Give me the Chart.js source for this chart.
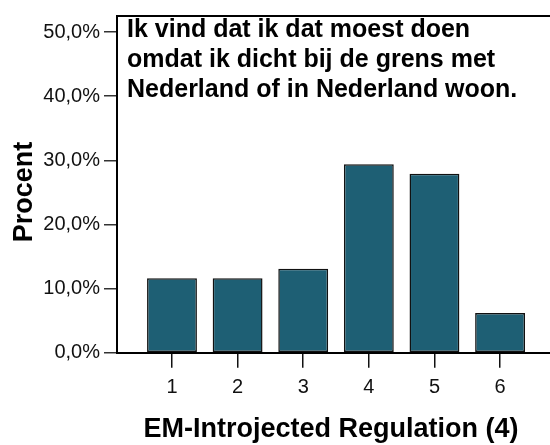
<!DOCTYPE html>
<html>
<head>
<meta charset="utf-8">
<script src="https://cdn.jsdelivr.net/npm/chart.js@4"></script>
<style>
  html, body { margin: 0; padding: 0; background: #fff; }
  #wrap { width: 550px; height: 445px; position: relative; }
</style>
</head>
<body>
<div id="wrap"><canvas id="c"></canvas></div>
<script>
'use strict';

/* data */
const CATEGORIES = [1, 2, 3, 4, 5, 6];
const PERCENTS = [11.6, 11.6, 13.1, 29.4, 27.9, 6.2];
const Y_TICKS = [0, 10, 20, 30, 40, 50];
const TITLE_LINES = [
  'Ik vind dat ik dat moest doen',
  'omdat ik dicht bij de grens met',
  'Nederland of in Nederland woon.',
];
const X_TITLE = 'EM-Introjected Regulation (4)';
const Y_TITLE = 'Procent';

const BAR_COLOR = '#1e5f74';
const FONT = '"Liberation Sans", Arial, sans-serif';

const fmtPct = (v) => Number(v).toFixed(1).replace('.', ',') + '%';

/* frame line on top + texts placed like the SPSS output */
const decor = {
  id: 'decor',
  afterDraw(chart) {
    const { ctx, chartArea } = chart;
    ctx.save();
    ctx.strokeStyle = '#000';
    ctx.lineWidth = 2;
    ctx.beginPath();
    ctx.moveTo(chartArea.left, chartArea.top);
    ctx.lineTo(chartArea.right, chartArea.top);
    ctx.stroke();

    ctx.fillStyle = '#000';
    ctx.textBaseline = 'alphabetic';
    ctx.textAlign = 'left';
    ctx.font = 'bold 25px ' + FONT;
    TITLE_LINES.forEach((t, i) => ctx.fillText(t, chartArea.left + 10, 37 + i * 30));

    ctx.font = 'bold 27px ' + FONT;
    ctx.textAlign = 'center';
    ctx.fillText(X_TITLE, 331, 437);

    ctx.translate(32, 192);
    ctx.rotate(-Math.PI / 2);
    ctx.fillText(Y_TITLE, 0, 0);
    ctx.restore();
  },
};

new Chart(document.getElementById('c'), {
  type: 'bar',
  data: {
    datasets: [{
      data: CATEGORIES.map((c, i) => ({ x: c, y: PERCENTS[i] })),
      backgroundColor: BAR_COLOR,
      borderColor: '#111',
      borderWidth: 1.5,
      borderSkipped: false,
      categoryPercentage: 1,
      barPercentage: 0.76,
    }],
  },
  options: {
    responsive: true,
    maintainAspectRatio: false,
    animation: false,
    layout: { padding: { top: 8, left: 0, right: 0, bottom: 0 } },
    plugins: { legend: { display: false }, tooltip: { enabled: false } },
    scales: {
      x: {
        type: 'linear',
        offset: false,
        min: 0.162,
        max: 6.761,
        afterBuildTicks: (axis) => { axis.ticks = CATEGORIES.map((v) => ({ value: v })); },
        afterFit: (s) => { s.height = 92.3; },
        border: { display: true, color: '#000', width: 2 },
        grid: { offset: false, drawOnChartArea: false, drawTicks: true, tickLength: 15, color: '#111', lineWidth: 1.5 },
        ticks: { color: '#111', padding: 8, font: { family: FONT, size: 20 }, maxRotation: 0,
                 callback: (v) => String(v) },
      },
      y: {
        min: 0,
        max: 52.5,
        afterBuildTicks: (axis) => { axis.ticks = Y_TICKS.map((v) => ({ value: v })); },
        afterFit: (s) => { s.width = 117; },
        border: { display: true, color: '#000', width: 2 },
        grid: { drawOnChartArea: false, drawTicks: true, tickLength: 13, color: '#333', lineWidth: 1.5 },
        ticks: { color: '#111', padding: 4, font: { family: FONT, size: 20 }, callback: fmtPct },
      },
    },
  },
  plugins: [decor],
});
</script>
</body>
</html>
